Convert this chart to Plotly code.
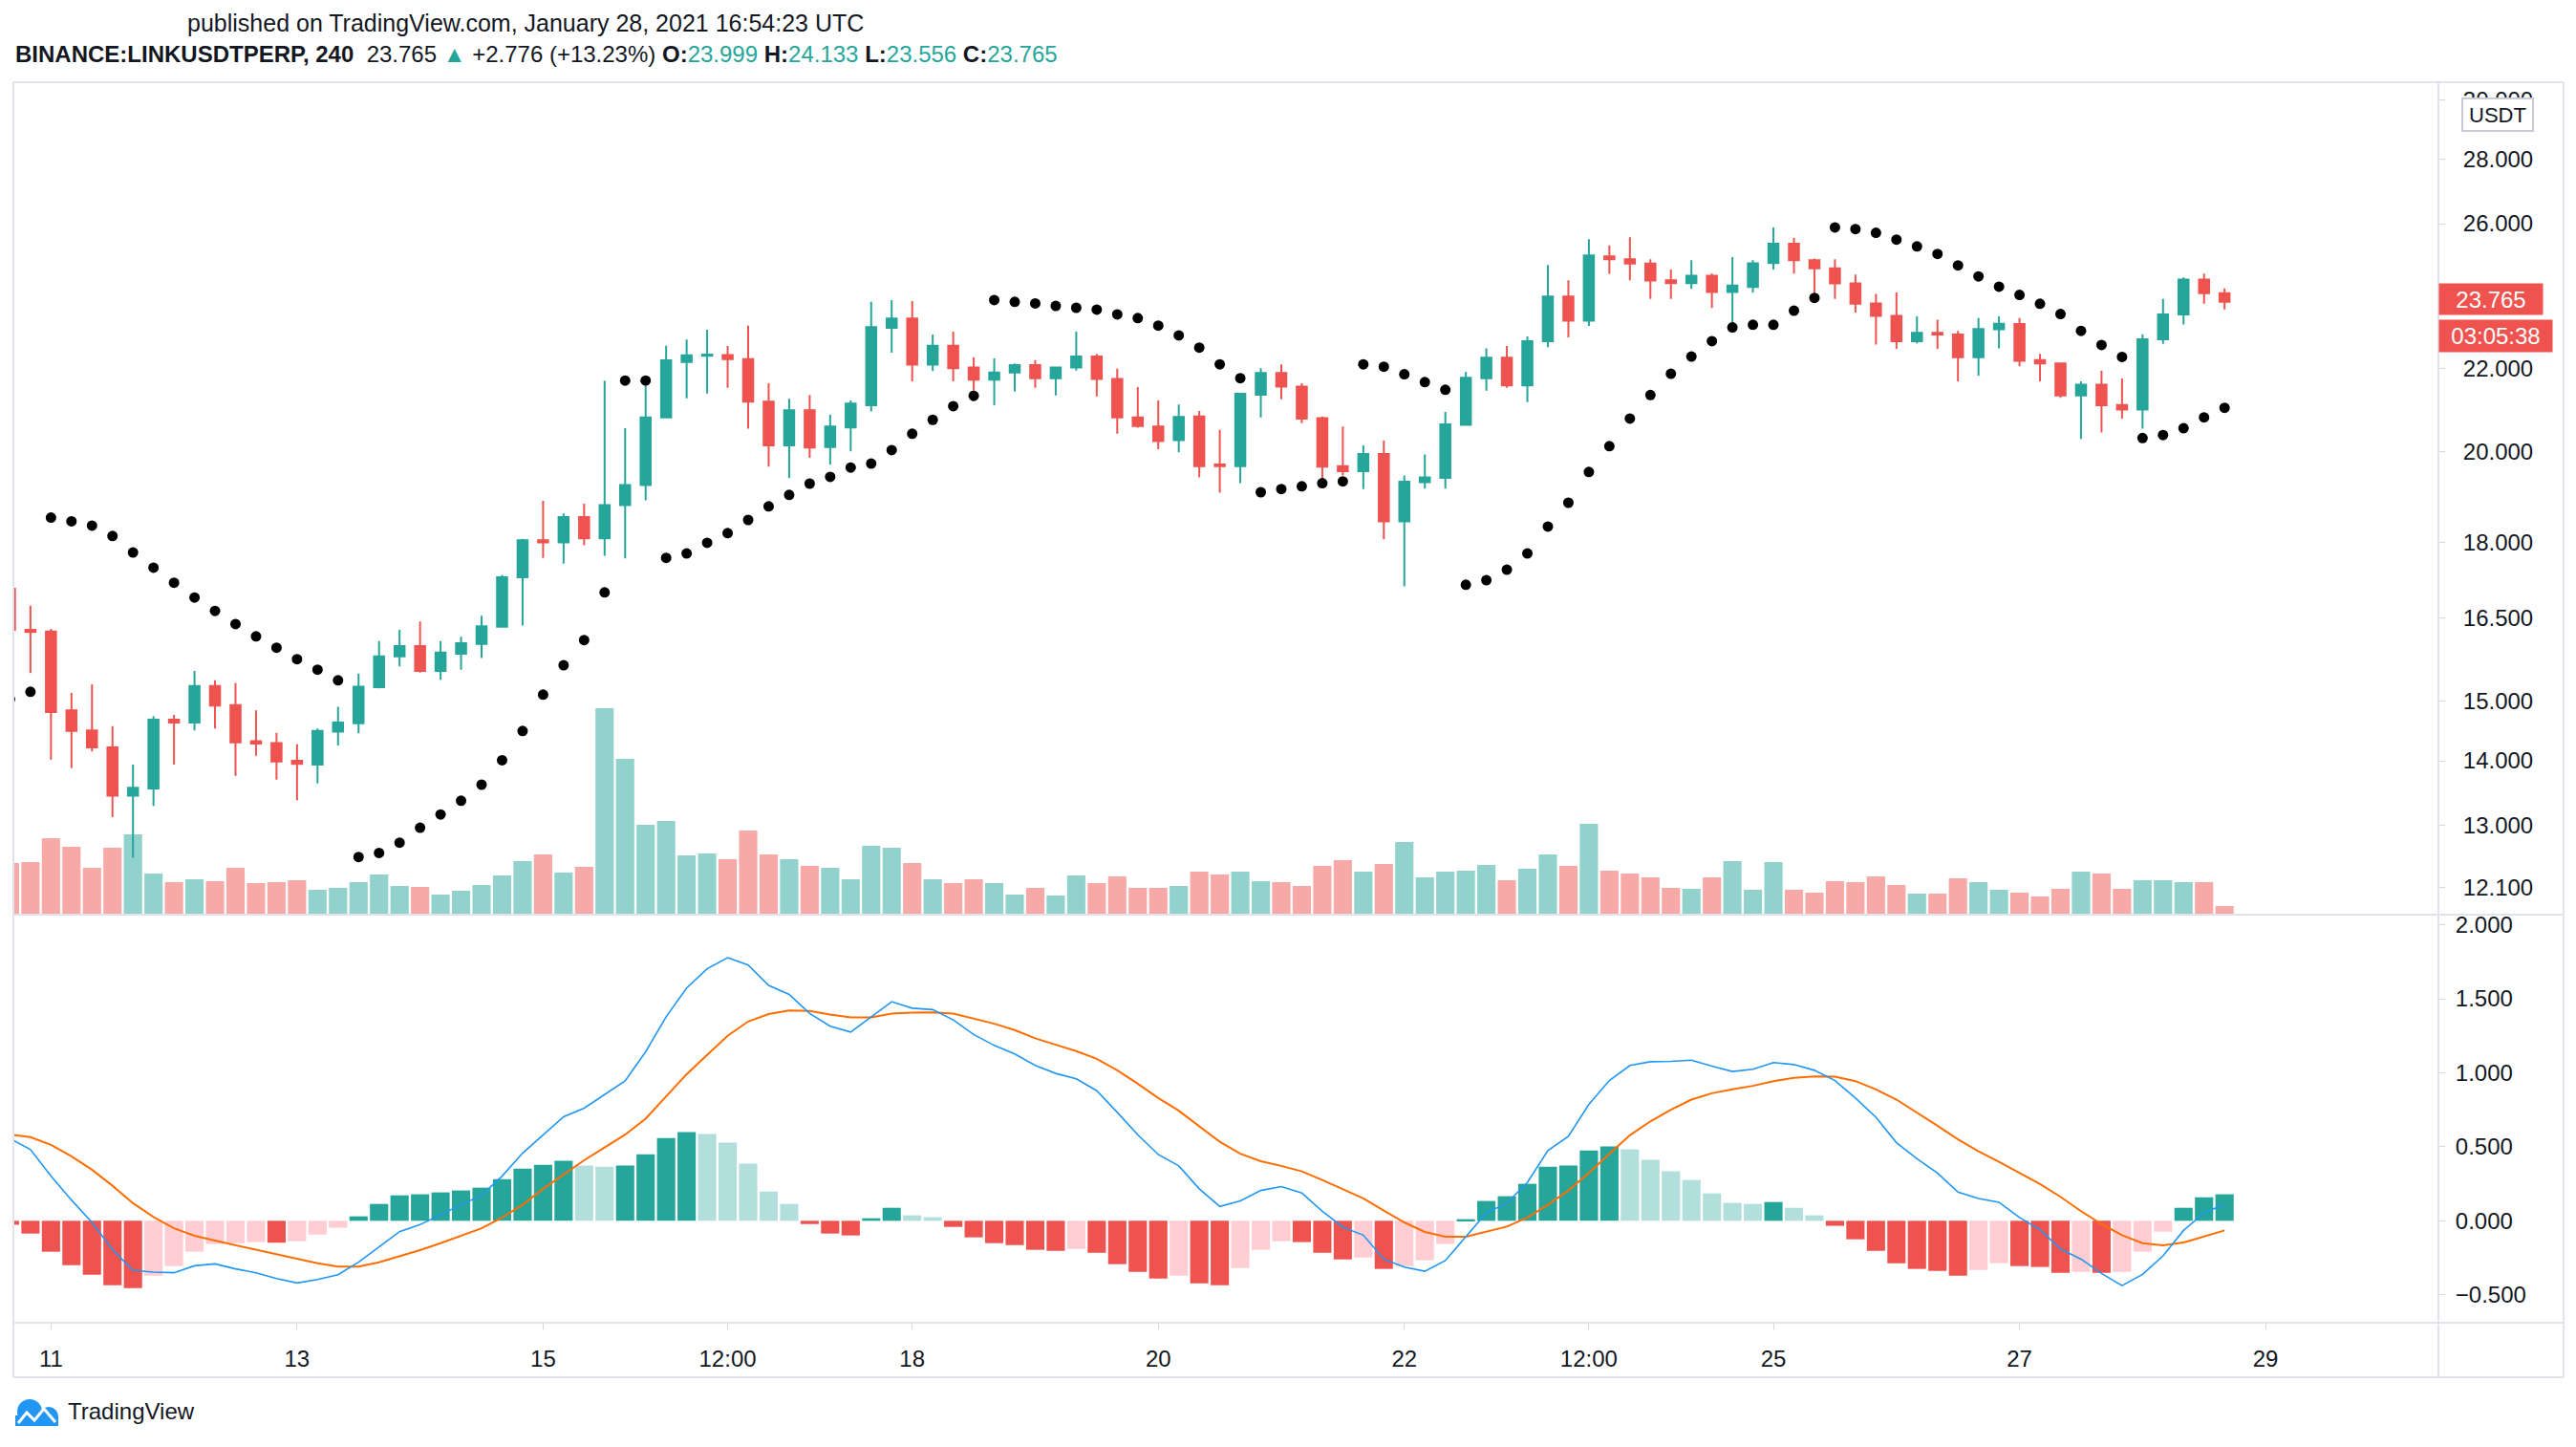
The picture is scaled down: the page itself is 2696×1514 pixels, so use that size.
import math
import pandas as pd
import plotly.graph_objects as go

# ---------------- data (4h candles, Jan 10 16:00 -> Jan 28 16:00 UTC) ----------------
times = pd.date_range("2021-01-10 16:00", periods=109, freq="4h")

open_ = [17.07, 16.28, 16.25, 14.84, 14.50, 14.22, 13.45, 13.56, 14.68, 14.63,
         15.26, 14.93, 14.32, 14.29, 14.00, 13.94, 14.48, 14.62, 15.24, 15.79,
         15.98, 15.53, 15.84, 16.02, 16.34, 17.30, 18.05, 18.01, 18.54, 18.09,
         18.80, 19.24, 20.80, 22.17, 22.33, 22.35, 22.24, 21.18, 20.14, 20.97,
         20.10, 20.56, 21.09, 23.06, 23.31, 22.10, 22.59, 22.03, 21.72, 21.90,
         22.09, 21.76, 22.03, 22.31, 21.74, 20.80, 20.58, 20.26, 20.82, 19.70,
         19.66, 21.35, 21.89, 21.55, 20.78, 19.66, 19.55, 19.94, 18.45, 19.30,
         19.40, 20.62, 21.76, 22.28, 21.58, 22.71, 23.91, 23.25, 25.04, 24.96,
         24.83, 24.36, 24.28, 24.49, 24.03, 24.17, 24.85, 25.41, 24.93, 24.70,
         24.27, 23.72, 23.38, 22.71, 22.93, 22.88, 22.29, 23.02, 23.16, 22.22,
         22.13, 21.33, 21.60, 21.10, 20.99, 22.76, 23.42, 24.38, 23.999]
high = [17.12, 16.74, 16.30, 15.14, 15.29, 14.57, 13.94, 14.74, 14.76, 15.53,
        15.36, 15.31, 14.84, 14.46, 14.27, 14.53, 14.90, 15.48, 16.07, 16.28,
        16.44, 16.07, 16.15, 16.55, 17.34, 18.08, 18.89, 18.62, 18.83, 21.70,
        20.54, 21.57, 22.59, 22.75, 23.01, 22.58, 23.12, 21.63, 21.25, 21.34,
        20.86, 21.21, 23.76, 23.81, 23.78, 22.88, 22.96, 22.29, 22.26, 22.13,
        22.22, 22.05, 22.96, 22.38, 22.00, 21.54, 21.21, 21.11, 20.95, 20.50,
        21.37, 22.01, 22.11, 21.63, 20.82, 20.58, 20.14, 20.25, 19.45, 19.93,
        20.93, 21.92, 22.52, 22.58, 22.83, 24.79, 24.36, 25.54, 25.36, 25.60,
        24.96, 24.66, 24.93, 24.55, 25.02, 24.93, 25.89, 25.58, 24.98, 24.96,
        24.52, 23.98, 24.02, 23.37, 23.28, 22.98, 23.32, 23.37, 23.32, 22.38,
        22.13, 21.68, 21.95, 21.75, 22.89, 23.84, 24.44, 24.55, 24.133]
low = [16.22, 15.49, 14.02, 13.88, 14.15, 13.12, 12.52, 13.29, 13.94, 14.50,
       14.53, 13.76, 14.08, 13.70, 13.38, 13.64, 14.25, 14.45, 15.22, 15.61,
       15.50, 15.37, 15.55, 15.76, 16.34, 16.36, 17.69, 17.57, 17.95, 17.73,
       17.68, 18.90, 20.78, 21.26, 21.38, 21.52, 20.53, 19.65, 19.39, 19.85,
       19.70, 20.00, 20.94, 22.41, 21.68, 21.94, 21.68, 21.45, 21.09, 21.43,
       21.52, 21.33, 21.95, 21.31, 20.41, 20.55, 20.05, 19.98, 19.41, 19.07,
       19.28, 20.80, 21.24, 20.66, 19.35, 19.45, 19.15, 18.07, 17.12, 19.16,
       19.16, 20.62, 21.45, 21.52, 21.17, 22.55, 22.81, 23.11, 24.54, 24.36,
       23.84, 23.84, 24.12, 23.59, 23.21, 24.01, 24.66, 24.55, 23.99, 23.84,
       23.47, 22.62, 22.51, 22.65, 22.51, 21.68, 21.82, 22.52, 22.06, 21.68,
       21.27, 20.29, 20.44, 20.77, 20.53, 22.64, 23.15, 23.71, 23.556]
close = [16.28, 16.24, 14.81, 14.49, 14.22, 13.45, 13.57, 14.68, 14.63, 15.26,
         14.92, 14.30, 14.28, 13.99, 13.95, 14.49, 14.63, 15.25, 15.79, 15.98,
         15.53, 15.86, 16.03, 16.35, 17.30, 18.05, 18.01, 18.54, 18.09, 18.80,
         19.24, 20.80, 22.21, 22.34, 22.36, 22.24, 21.18, 20.14, 20.97, 20.09,
         20.58, 21.13, 23.08, 23.31, 22.10, 22.59, 22.01, 21.72, 21.90, 22.09,
         21.76, 22.03, 22.31, 21.74, 20.80, 20.59, 20.24, 20.81, 19.66, 19.66,
         21.37, 21.89, 21.55, 20.77, 19.65, 19.55, 19.94, 18.45, 19.31, 19.41,
         20.63, 21.77, 22.28, 21.58, 22.71, 23.91, 23.25, 25.07, 24.96, 24.83,
         24.35, 24.28, 24.49, 24.03, 24.21, 24.84, 25.41, 24.93, 24.70, 24.27,
         23.71, 23.38, 22.71, 22.93, 22.88, 22.29, 23.03, 23.17, 22.20, 22.13,
         21.33, 21.60, 21.09, 20.989, 22.76, 23.42, 24.38, 23.999, 23.765]
sar = [15.03, 15.16, 18.53, 18.45, 18.36, 18.14, 17.80, 17.49, 17.19, 16.90,
       16.64, 16.39, 16.16, 15.95, 15.74, 15.55, 15.36, 12.53, 12.59, 12.74,
       12.96, 13.16, 13.37, 13.62, 14.01, 14.49, 15.11, 15.63, 16.09, 17.00,
       21.70, 21.70, 17.69, 17.78, 18.00, 18.20, 18.48, 18.77, 19.02, 19.27,
       19.42, 19.63, 19.72, 20.03, 20.41, 20.74, 21.07, 21.32, 23.81, 23.76,
       23.72, 23.65, 23.60, 23.55, 23.42, 23.32, 23.12, 22.86, 22.54, 22.11,
       21.76, 19.08, 19.15, 19.21, 19.28, 19.32, 22.11, 22.05, 21.86, 21.66,
       21.47, 17.15, 17.24, 17.45, 17.78, 18.34, 18.85, 19.53, 20.12, 20.77,
       21.34, 21.87, 22.31, 22.71, 23.07, 23.14, 23.14, 23.52, 23.87, 25.89,
       25.84, 25.73, 25.53, 25.33, 25.11, 24.78, 24.47, 24.18, 23.95, 23.71,
       23.43, 22.98, 22.61, 22.30, 20.31, 20.38, 20.54, 20.80, 21.03]
volume_k = [540, 550, 800, 710, 490, 700, 840, 430, 340, 370,
            350, 490, 330, 340, 360, 260, 280, 340, 420, 300,
            290, 210, 250, 310, 410, 560, 630, 440, 500, 2160,
            1630, 940, 980, 620, 640, 580, 880, 630, 580, 510,
            490, 370, 720, 700, 540, 370, 330, 370, 330, 210,
            280, 200, 410, 330, 400, 280, 280, 300, 450, 420,
            450, 350, 340, 300, 510, 570, 450, 530, 760, 390,
            450, 460, 520, 360, 480, 630, 510, 950, 460, 430,
            390, 280, 270, 390, 560, 260, 550, 260, 230, 350,
            340, 400, 310, 220, 220, 380, 340, 260, 230, 190,
            270, 450, 430, 270, 360, 360, 340, 340, 90]
macd = [0.556, 0.481, 0.302, 0.140, -0.011, -0.194, -0.336, -0.347, -0.351, -0.304,
        -0.291, -0.325, -0.351, -0.390, -0.420, -0.397, -0.364, -0.280, -0.177, -0.073,
        -0.026, 0.043, 0.108, 0.172, 0.302, 0.457, 0.580, 0.703, 0.761, 0.851,
        0.946, 1.142, 1.379, 1.573, 1.703, 1.778, 1.728, 1.591, 1.530, 1.401,
        1.315, 1.276, 1.379, 1.481, 1.437, 1.427, 1.358, 1.259, 1.185, 1.127,
        1.050, 0.996, 0.959, 0.879, 0.733, 0.582, 0.448, 0.371, 0.216, 0.097,
        0.134, 0.205, 0.231, 0.188, 0.065, -0.043, -0.097, -0.259, -0.313, -0.341,
        -0.269, -0.108, 0.054, 0.119, 0.259, 0.474, 0.571, 0.787, 0.948, 1.050,
        1.075, 1.078, 1.086, 1.045, 1.009, 1.024, 1.069, 1.056, 1.017, 0.948,
        0.830, 0.700, 0.528, 0.420, 0.323, 0.194, 0.151, 0.125, 0.022, -0.060,
        -0.190, -0.259, -0.356, -0.438, -0.362, -0.237, -0.065, 0.054, 0.112]
signal = [0.583, 0.565, 0.513, 0.435, 0.345, 0.237, 0.119, 0.026, -0.050, -0.101,
          -0.134, -0.164, -0.194, -0.224, -0.254, -0.287, -0.310, -0.310, -0.280, -0.239,
          -0.198, -0.151, -0.103, -0.050, 0.022, 0.108, 0.216, 0.313, 0.409, 0.496,
          0.582, 0.690, 0.841, 0.991, 1.121, 1.250, 1.347, 1.397, 1.422, 1.418,
          1.394, 1.375, 1.375, 1.401, 1.407, 1.409, 1.401, 1.369, 1.332, 1.289,
          1.233, 1.190, 1.147, 1.095, 1.017, 0.927, 0.830, 0.744, 0.636, 0.534,
          0.453, 0.403, 0.371, 0.334, 0.276, 0.211, 0.151, 0.069, -0.011, -0.075,
          -0.108, -0.108, -0.075, -0.039, 0.022, 0.108, 0.205, 0.323, 0.453, 0.578,
          0.672, 0.750, 0.819, 0.862, 0.888, 0.912, 0.944, 0.966, 0.976, 0.974,
          0.944, 0.888, 0.819, 0.733, 0.642, 0.550, 0.470, 0.399, 0.323, 0.248,
          0.162, 0.065, -0.022, -0.097, -0.151, -0.166, -0.147, -0.108, -0.065]
hist = [-0.027, -0.086, -0.209, -0.300, -0.364, -0.435, -0.455, -0.371, -0.306, -0.209,
        -0.157, -0.151, -0.144, -0.148, -0.138, -0.093, -0.047, 0.030, 0.114, 0.172,
        0.179, 0.192, 0.205, 0.224, 0.282, 0.353, 0.379, 0.405, 0.373, 0.366,
        0.373, 0.450, 0.560, 0.599, 0.586, 0.528, 0.386, 0.198, 0.114, -0.022,
        -0.086, -0.099, 0.017, 0.088, 0.037, 0.024, -0.041, -0.112, -0.151, -0.164,
        -0.196, -0.203, -0.190, -0.216, -0.293, -0.345, -0.390, -0.371, -0.422, -0.435,
        -0.319, -0.196, -0.138, -0.144, -0.216, -0.261, -0.248, -0.325, -0.306, -0.267,
        -0.157, 0.011, 0.134, 0.166, 0.250, 0.366, 0.373, 0.476, 0.502, 0.483,
        0.412, 0.334, 0.276, 0.185, 0.121, 0.114, 0.127, 0.088, 0.037, -0.034,
        -0.125, -0.203, -0.287, -0.325, -0.338, -0.371, -0.332, -0.287, -0.306, -0.312,
        -0.351, -0.345, -0.351, -0.345, -0.209, -0.073, 0.088, 0.159, 0.179]

price_ticks = [12.1, 13, 14, 15, 16.5, 18, 20, 22, 26, 28, 30]
macd_ticks = [-0.5, 0, 0.5, 1, 1.5, 2]
x_tickvals = ["2021-01-11", "2021-01-13", "2021-01-15", "2021-01-16 12:00", "2021-01-18",
              "2021-01-20", "2021-01-22", "2021-01-23 12:00", "2021-01-25", "2021-01-27", "2021-01-29"]
x_ticktext = ["11", "13", "15", "12:00", "18", "20", "22", "12:00", "25", "27", "29"]
symbol = "BINANCE:LINKUSDTPERP, 240"
published = "published on TradingView.com, January 28, 2021 16:54:23 UTC"
countdown = "03:05:38"
prev_day_close = close[103]

# ---------------- layout geometry ----------------
W, H = 2696, 1514
PL, PR, PT, PB = 14, 2552, 86, 1384
def fx(px):
    return (px - PL) / (PR - PL)
def fy(py):
    return (PB - py) / (PB - PT)
SPLIT = fy(957)

UP, DN = "#26a69a", "#ef5350"
TXT = "#131722"
BORDER = "#e0e3eb"
FONT = "Liberation Sans, Arial, sans-serif"

vol_colors = ["rgba(38,166,154,0.5)" if c >= o else "rgba(239,83,80,0.5)"
              for o, c in zip(open_, close)]
hist_colors = []
prev = None
for h in hist:
    if h >= 0:
        hist_colors.append(UP if (prev is None or h > prev) else "#b2dfdb")
    else:
        hist_colors.append(DN if (prev is None or h < prev) else "#ffcdd2")
    prev = h

fig = go.Figure()
fig.add_trace(go.Bar(x=times, y=volume_k, marker=dict(color=vol_colors, line=dict(width=0)),
                     yaxis="y", xaxis="x", hoverinfo="skip"))
fig.add_trace(go.Candlestick(x=times, open=open_, high=high, low=low, close=close,
                             yaxis="y2", xaxis="x",
                             increasing=dict(line=dict(color=UP, width=2), fillcolor=UP),
                             decreasing=dict(line=dict(color=DN, width=2), fillcolor=DN),
                             whiskerwidth=0, hoverinfo="skip"))
fig.add_trace(go.Scatter(x=times, y=sar, mode="markers", yaxis="y2", xaxis="x",
                         marker=dict(color="#000000", size=11), hoverinfo="skip"))
fig.add_trace(go.Bar(x=times, y=hist, marker=dict(color=hist_colors, line=dict(width=0)),
                     yaxis="y3", xaxis="x", hoverinfo="skip"))
fig.add_trace(go.Scatter(x=times, y=signal, mode="lines", line=dict(color="#ff6d00", width=2),
                         yaxis="y3", xaxis="x", hoverinfo="skip"))
fig.add_trace(go.Scatter(x=times, y=macd, mode="lines", line=dict(color="#2196f3", width=1.6),
                         yaxis="y3", xaxis="x", hoverinfo="skip"))

lp = close[-1]
tickfont = dict(family=FONT, size=24, color=TXT)

fig.update_layout(
    width=W, height=H,
    margin=dict(l=PL, r=W - PR, t=PT, b=H - PB, pad=0),
    paper_bgcolor="white", plot_bgcolor="white",
    showlegend=False, hovermode=False, bargap=0.11,
    font=dict(family=FONT, color=TXT),
    xaxis=dict(type="date", range=["2021-01-10 16:40", "2021-01-30 09:43"], anchor="y3",
               rangeslider=dict(visible=False), showgrid=False, zeroline=False, showline=False,
               tickmode="array", tickvals=x_tickvals, ticktext=x_ticktext,
               ticks="outside", ticklen=6, tickwidth=1, tickcolor="#d1d4dc",
               tickfont=tickfont, ticklabelstandoff=10, fixedrange=True),
    yaxis=dict(domain=[SPLIT, 1], range=[0, 8710], visible=False, fixedrange=True),
    yaxis2=dict(overlaying="y", type="log", range=[1.06912, 1.48581], side="right", anchor="x",
                tickmode="array", tickvals=price_ticks, tickformat=".3f",
                showgrid=False, zeroline=False, showline=False,
                ticks="outside", ticklen=6, tickwidth=1, tickcolor="#d1d4dc",
                tickfont=tickfont, ticklabelstandoff=14, fixedrange=True),
    yaxis3=dict(domain=[0, SPLIT], range=[-0.689, 2.069], side="right", anchor="x",
                tickmode="array", tickvals=macd_ticks, tickformat=".3f",
                showgrid=False, zeroline=False, showline=False,
                ticks="outside", ticklen=6, tickwidth=1, tickcolor="#d1d4dc",
                tickfont=tickfont, ticklabelstandoff=6, fixedrange=True),
)

shapes = []
def hline(py, x0=14, x1=2683, w=2):
    shapes.append(dict(type="line", xref="paper", yref="paper", x0=fx(x0), x1=fx(x1),
                       y0=fy(py), y1=fy(py), line=dict(color=BORDER, width=w)))
def vline(px, y0=86, y1=1441, w=2):
    shapes.append(dict(type="line", xref="paper", yref="paper", x0=fx(px), x1=fx(px),
                       y0=fy(y0), y1=fy(y1), line=dict(color=BORDER, width=w)))
hline(86); hline(957); hline(1384); hline(1441)
vline(14); vline(2552); vline(2683)
# last price dotted line
shapes.append(dict(type="line", xref="paper", yref="y2", x0=0, x1=1,
                   y0=math.log10(lp), y1=math.log10(lp),
                   line=dict(color=DN, width=1.5, dash="dot")))
# TradingView logo (simplified cloud)
LOGO = "#2196f3"
for (cx, cy, r) in [(31, 1477, 13), (51, 1482, 10)]:
    shapes.append(dict(type="circle", xref="paper", yref="paper",
                       x0=fx(cx - r), x1=fx(cx + r), y0=fy(cy + r), y1=fy(cy - r),
                       fillcolor=LOGO, line=dict(width=0)))
shapes.append(dict(type="rect", xref="paper", yref="paper", x0=fx(16), x1=fx(61),
                   y0=fy(1492), y1=fy(1481), fillcolor=LOGO, line=dict(width=0)))
pts = [(19, 1489), (28, 1478), (36, 1486), (46, 1474), (58, 1488)]
path = "M " + " L ".join(f"{fx(x):.6f},{fy(y):.6f}" for x, y in pts)
shapes.append(dict(type="path", xref="paper", yref="paper", path=path,
                   line=dict(color="white", width=3)))
fig.update_layout(shapes=shapes)

teal = f"<span style='color:{UP}'>"
chg = lp - prev_day_close
line2 = (f"<b>{symbol}</b>  {lp:.3f} {teal}▲</span> {chg:+.3f} ({chg / prev_day_close * 100:+.2f}%) "
         f"<b>O:</b>{teal}{open_[-1]:.3f}</span> <b>H:</b>{teal}{high[-1]:.3f}</span> "
         f"<b>L:</b>{teal}{low[-1]:.3f}</span> <b>C:</b>{teal}{close[-1]:.3f}</span>")

ann = [
    dict(text=published, x=fx(194), y=fy(24), xref="paper", yref="paper",
         xanchor="left", yanchor="middle", showarrow=False,
         font=dict(family=FONT, size=25, color=TXT)),
    dict(text=line2, x=fx(14), y=fy(57), xref="paper", yref="paper",
         xanchor="left", yanchor="middle", showarrow=False,
         font=dict(family=FONT, size=24, color=TXT)),
    dict(text="USDT", x=fx(2614), y=fy(120), xref="paper", yref="paper",
         xanchor="center", yanchor="middle", showarrow=False, bgcolor="white",
         bordercolor="#c9ccd6", borderwidth=2, borderpad=3, width=66, height=26,
         font=dict(family=FONT, size=22, color=TXT)),
    dict(text=f"{lp:.3f}", x=fx(2552), y=fy(313), xref="paper", yref="paper",
         xanchor="left", yanchor="middle", showarrow=False, bgcolor=DN,
         borderpad=4, width=100, height=24, align="center",
         font=dict(family=FONT, size=24, color="white")),
    dict(text=countdown, x=fx(2552), y=fy(351), xref="paper", yref="paper",
         xanchor="left", yanchor="middle", showarrow=False, bgcolor=DN,
         borderpad=4, width=110, height=25, align="center",
         font=dict(family=FONT, size=24, color="white")),
    dict(text="TradingView", x=fx(69), y=fy(1477), xref="paper", yref="paper",
         xanchor="left", yanchor="middle", showarrow=False,
         font=dict(family=FONT, size=24, color=TXT)),
]
fig.update_layout(annotations=ann)

fig.write_html("out.html", config={"displayModeBar": False},
               post_script="document.body.style.margin='0';document.body.style.overflow='hidden';")
